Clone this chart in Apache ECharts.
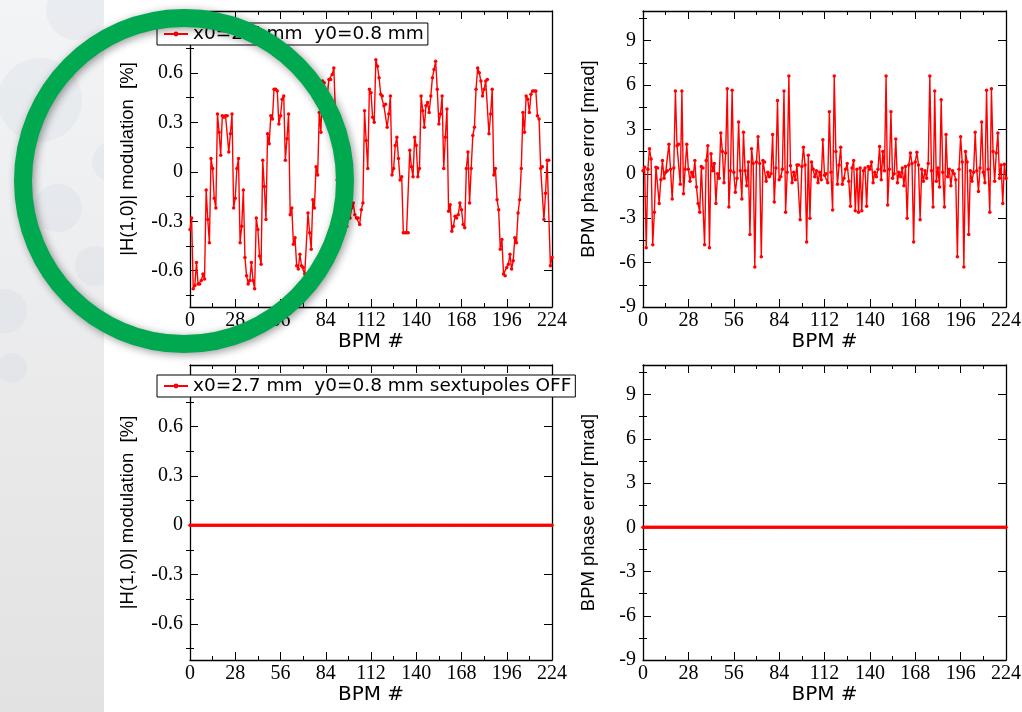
<!DOCTYPE html>
<html><head><meta charset="utf-8">
<script src="https://cdn.jsdelivr.net/npm/echarts@6/dist/echarts.min.js"></script>
<style>html,body{margin:0;padding:0;background:#fff}#chart{width:1022px;height:712px}</style>
</head><body><div id="chart"></div>
<script>
// ---------- data ----------
const legendOn = 'x0=2.7 mm  y0=0.8 mm';
const legendOff = 'x0=2.7 mm  y0=0.8 mm sextupoles OFF';
const hTitle = '|H(1,0)| modulation  [%]';
const pTitle = 'BPM phase error [mrad]';
const xTitle = 'BPM #';

const hTicks = [-0.6, -0.3, 0, 0.3, 0.6];
const hMinorTicks = [-0.75, -0.45, -0.15, 0.15, 0.45, 0.75, 0.9];
const pTicks = [-9, -6, -3, 0, 3, 6, 9];
const pMinorTicks = [-7.5, -4.5, -1.5, 1.5, 4.5, 7.5, 10.5];

// |H(1,0)| modulation, sextupoles ON (BPM 0..224)
const hModOn = [
 -0.35,-0.28,-0.71,-0.69,-0.55,-0.68,-0.68,-0.66,-0.62,-0.65,-0.11,-0.29,-0.43,0.08,0.02,
 -0.16,-0.22,0.35,0.24,0.10,0.34,0.33,0.34,0.34,0.12,0.23,0.35,-0.22,-0.16,0.02,
 0.08,-0.43,-0.33,-0.11,-0.52,-0.63,-0.68,-0.66,-0.55,-0.66,-0.71,-0.28,-0.35,-0.51,-0.56,
 0.07,-0.09,-0.29,0.23,0.17,0.34,0.32,0.50,0.50,0.49,0.29,0.34,0.44,0.46,0.07,
 0.20,0.35,-0.26,-0.22,-0.44,-0.40,-0.57,-0.59,-0.50,-0.57,-0.58,-0.62,-0.63,-0.25,-0.37,
 -0.47,-0.17,-0.22,0.03,-0.02,0.36,0.24,0.55,0.54,0.49,0.47,0.56,0.56,0.59,0.63,
 0.35,-0.05,-0.22,-0.30,-0.27,-0.35,-0.30,-0.33,-0.25,-0.28,-0.22,-0.19,-0.26,-0.28,-0.28,
 -0.32,-0.23,-0.19,0.37,0.19,0.02,0.50,0.48,0.33,0.30,0.68,0.64,0.57,0.47,0.46,
 0.40,0.41,0.27,0.35,0.46,-0.02,0.02,0.16,0.21,0.08,-0.05,-0.03,-0.37,-0.37,-0.37,
 -0.37,0.13,0.03,-0.03,0.21,0.16,-0.03,0.02,0.46,0.37,0.27,0.40,0.42,0.36,0.46,
 0.57,0.62,0.67,0.50,0.29,0.35,0.46,0.02,0.21,0.38,-0.24,-0.20,-0.36,-0.33,-0.27,
 -0.28,-0.26,-0.19,-0.23,-0.32,-0.34,0.02,0.12,-0.19,0.02,0.22,0.27,0.50,0.63,0.60,
 0.55,0.46,0.50,0.55,0.56,0.23,0.35,0.50,-0.02,0.02,-0.17,-0.23,-0.47,-0.41,-0.62,
 -0.63,-0.58,-0.56,-0.50,-0.59,-0.54,-0.40,-0.43,-0.25,-0.17,0.02,0.36,0.24,0.46,0.44,
 0.36,0.47,0.49,0.49,0.49,0.34,0.32,0.02,0.03,-0.29,-0.13,0.07,0.07,-0.57,-0.52
];

// BPM phase error [mrad], sextupoles ON
const phaseOn = [
 0.2,0.45,-5.0,0.3,1.7,1.0,-4.8,-2.6,0.45,0.4,-2.0,-0.4,0.9,-0.3,0.1,
 0.2,2.0,0.3,-1.7,0.4,5.6,1.9,2.0,-0.7,5.6,-1.35,0.3,2.0,0.3,-0.5,
 0.1,-0.2,0.9,-0.9,-2.0,-2.6,0.5,0.4,-4.8,0.9,1.9,-5.0,1.35,0.2,0.7,
 -2.0,0.0,-0.3,2.75,1.5,-0.6,1.4,5.75,-2.25,0.2,5.65,0.1,-1.25,-0.3,3.5,
 0.2,-1.7,2.8,0.2,-0.8,0.8,-4.1,1.7,0.7,-6.3,0.8,2.5,0.7,-5.6,0.9,
 0.8,-0.5,0.1,-0.2,0.0,2.65,-1.9,0.4,4.95,-0.4,-0.2,0.3,5.6,-2.6,0.1,
 6.6,0.55,-0.6,0.1,-0.4,0.6,0.6,-3.1,0.5,1.8,0.6,-4.6,1.25,-3.0,0.8,
 0.3,-0.2,0.2,-0.6,0.1,-0.4,2.3,-0.1,0.0,-0.6,4.2,0.1,-2.45,6.6,1.5,
 -0.7,0.6,1.8,-0.7,-0.3,0.3,0.7,-0.5,-2.2,0.4,0.9,-2.5,0.3,-2.6,0.4,
 -2.5,0.2,0.4,-2.2,0.5,0.3,0.8,-0.6,0.1,-0.2,0.3,1.85,-0.4,1.5,0.2,
 6.6,-2.1,0.3,4.2,-0.3,0.0,2.35,-0.6,0.1,-0.2,0.4,-0.8,0.5,-3.0,0.6,
 1.4,0.7,-4.6,0.8,1.45,0.6,-3.1,0.3,-0.5,0.2,-0.3,0.7,6.6,0.2,-2.25,
 5.6,-0.5,0.4,-0.9,5.0,0.1,-2.25,2.65,-0.2,0.3,-0.8,0.2,0.0,-0.4,-5.6,
 0.3,2.5,0.8,-6.3,1.5,0.8,-4.1,0.2,-0.5,0.1,2.8,0.2,-1.2,0.4,3.5,
 0.1,-0.6,5.65,0.3,-2.6,5.75,1.5,-0.5,1.4,2.75,-0.3,0.6,-2.0,0.65,-0.3
];

// sextupoles OFF: everything sits on zero
const hModOff = [
 0,0,0,0,0,0,0,0,0,0,0,0,0,0,0, 0,0,0,0,0,0,0,0,0,0,0,0,0,0,0,
 0,0,0,0,0,0,0,0,0,0,0,0,0,0,0, 0,0,0,0,0,0,0,0,0,0,0,0,0,0,0,
 0,0,0,0,0,0,0,0,0,0,0,0,0,0,0, 0,0,0,0,0,0,0,0,0,0,0,0,0,0,0,
 0,0,0,0,0,0,0,0,0,0,0,0,0,0,0, 0,0,0,0,0,0,0,0,0,0,0,0,0,0,0,
 0,0,0,0,0,0,0,0,0,0,0,0,0,0,0, 0,0,0,0,0,0,0,0,0,0,0,0,0,0,0,
 0,0,0,0,0,0,0,0,0,0,0,0,0,0,0, 0,0,0,0,0,0,0,0,0,0,0,0,0,0,0,
 0,0,0,0,0,0,0,0,0,0,0,0,0,0,0, 0,0,0,0,0,0,0,0,0,0,0,0,0,0,0,
 0,0,0,0,0,0,0,0,0,0,0,0,0,0,0
];
const phaseOff = [
 0,0,0,0,0,0,0,0,0,0,0,0,0,0,0, 0,0,0,0,0,0,0,0,0,0,0,0,0,0,0,
 0,0,0,0,0,0,0,0,0,0,0,0,0,0,0, 0,0,0,0,0,0,0,0,0,0,0,0,0,0,0,
 0,0,0,0,0,0,0,0,0,0,0,0,0,0,0, 0,0,0,0,0,0,0,0,0,0,0,0,0,0,0,
 0,0,0,0,0,0,0,0,0,0,0,0,0,0,0, 0,0,0,0,0,0,0,0,0,0,0,0,0,0,0,
 0,0,0,0,0,0,0,0,0,0,0,0,0,0,0, 0,0,0,0,0,0,0,0,0,0,0,0,0,0,0,
 0,0,0,0,0,0,0,0,0,0,0,0,0,0,0, 0,0,0,0,0,0,0,0,0,0,0,0,0,0,0,
 0,0,0,0,0,0,0,0,0,0,0,0,0,0,0, 0,0,0,0,0,0,0,0,0,0,0,0,0,0,0,
 0,0,0,0,0,0,0,0,0,0,0,0,0,0,0
];

// BPM index (x value of every point)
const bpm = hModOn.map((_, i) => i);

// ---------- layout / style ----------
const SERIF = 'Liberation Serif';
const grids = [
  {left: 190, top: 11, width: 362, height: 296},
  {left: 643, top: 11, width: 363, height: 296},
  {left: 190, top: 365, width: 362, height: 295},
  {left: 643, top: 365, width: 363, height: 295}
];
const panels = [
  {data: hModOn, kind: 'h', name: legendOn},
  {data: phaseOn, kind: 'p', name: 'BPM phase error'},
  {data: hModOff, kind: 'h', name: legendOff},
  {data: phaseOff, kind: 'p', name: 'BPM phase error sextupoles OFF'}
];
const black = {color: '#000', width: 1.3};
const xAxes = [], yAxes = [], series = [];

panels.forEach((p, g) => {
  const xi = xAxes.length;
  const xBase = {
    gridIndex: g, type: 'value', min: 0, max: 224, interval: 28,
    axisLine: {onZero: false, lineStyle: black},
    axisTick: {inside: true, length: 8, lineStyle: {color: '#000'}},
    minorTick: {show: true, splitNumber: 2, length: 4, lineStyle: {color: '#000'}},
    splitLine: {show: false}
  };
  xAxes.push(Object.assign({}, xBase, {
    position: 'bottom', name: xTitle, nameLocation: 'middle', nameGap: 25,
    nameTextStyle: {fontFamily: 'DejaVu Sans', fontSize: 20, color: '#000'},
    axisLabel: {margin: 4, fontFamily: SERIF, fontSize: 20, color: '#000'}
  }));
  xAxes.push(Object.assign({}, xBase, {position: 'top', axisLabel: {show: false}}));

  const isH = p.kind === 'h';
  const major = isH ? hTicks : pTicks;
  const minor = isH ? hMinorTicks : pMinorTicks;
  const yBase = {
    gridIndex: g, type: 'value',
    min: isH ? -0.82 : -9, max: isH ? 0.975 : 11,
    splitLine: {show: false},
    axisLine: {onZero: false, lineStyle: black}
  };
  const yi = yAxes.length;
  yAxes.push(Object.assign({}, yBase, {
    position: 'left',
    name: isH ? hTitle : pTitle, nameLocation: 'middle', nameGap: isH ? 53 : 45,
    nameTextStyle: {fontFamily: 'Liberation Sans', fontSize: 18.5, color: '#000'},
    axisTick: {inside: true, length: 8, customValues: major, lineStyle: {color: '#000'}},
    axisLabel: {customValues: major, margin: 7, fontFamily: SERIF, fontSize: 20, color: '#000'}
  }));
  yAxes.push(Object.assign({}, yBase, {
    position: 'left', axisLine: {show: false},
    axisTick: {inside: true, length: 4, customValues: minor, lineStyle: {color: '#000'}},
    axisLabel: {show: false}
  }));
  yAxes.push(Object.assign({}, yBase, {
    position: 'right',
    axisTick: {inside: true, length: 8, customValues: major, lineStyle: {color: '#000'}},
    axisLabel: {show: false}
  }));
  yAxes.push(Object.assign({}, yBase, {
    position: 'right', axisLine: {show: false},
    axisTick: {inside: true, length: 4, customValues: minor, lineStyle: {color: '#000'}},
    axisLabel: {show: false}
  }));

  series.push({
    type: 'line', name: p.name, xAxisIndex: xi, yAxisIndex: yi,
    data: p.data.map((v, i) => [bpm[i], v]),
    symbol: 'circle', symbolSize: 3.5, showSymbol: true,
    lineStyle: {color: '#ff0000', width: 1.4},
    itemStyle: {color: '#ff0000'},
    emphasis: {disabled: true}, silent: true, z: 3
  });
});

const legendStyle = {
  orient: 'horizontal', backgroundColor: '#fff', borderColor: '#000', borderWidth: 1,
  padding: [1, 4, 1, 6], itemWidth: 24, itemHeight: 6, borderRadius: 0,
  textStyle: {fontFamily: 'DejaVu Sans', fontSize: 18.5, color: '#000', lineHeight: 20},
  selectedMode: false, z: 6
};

// decorative slide background: grey strip with faint dots, green highlight ring
const dots = [
  [76, 10, 30], [40, 100, 42], [112, 162, 20], [58, 208, 24],
  [95, 266, 20], [5, 311, 22], [12, 368, 15]
];
const graphic = [
  {type: 'rect', z: -10, shape: {x: 0, y: 0, width: 104, height: 712},
   style: {fill: new echarts.graphic.LinearGradient(0, 0, 0, 1, [
     {offset: 0, color: '#f3f4f6'}, {offset: 1, color: '#e2e2e2'}])}},
  ...dots.map(d => ({type: 'circle', z: -9, shape: {cx: d[0], cy: d[1], r: d[2]},
    style: {fill: 'rgba(200,210,222,0.22)'}})),
  {type: 'rect', z: -8, shape: {x: 104, y: 0, width: 918, height: 712}, style: {fill: '#fff'}},
  {type: 'ellipse', z: 100, shape: {cx: 184, cy: 181, rx: 161, ry: 163},
   style: {fill: 'none', stroke: '#00a84f', lineWidth: 18,
     shadowBlur: 8, shadowColor: 'rgba(0,0,0,0.4)', shadowOffsetX: 2, shadowOffsetY: 2}}
];

const chart = echarts.init(document.getElementById('chart'), null, {renderer: 'canvas'});
chart.setOption({
  animation: false,
  backgroundColor: '#fff',
  grid: grids.map(g => Object.assign({containLabel: false, outerBoundsMode: 'none'}, g)),
  xAxis: xAxes,
  yAxis: yAxes,
  legend: [
    Object.assign({}, legendStyle, {left: 157, top: 23, data: [legendOn]}),
    Object.assign({}, legendStyle, {left: 157, top: 375, data: [legendOff]})
  ],
  graphic: graphic,
  series: series
});
</script></body></html>
